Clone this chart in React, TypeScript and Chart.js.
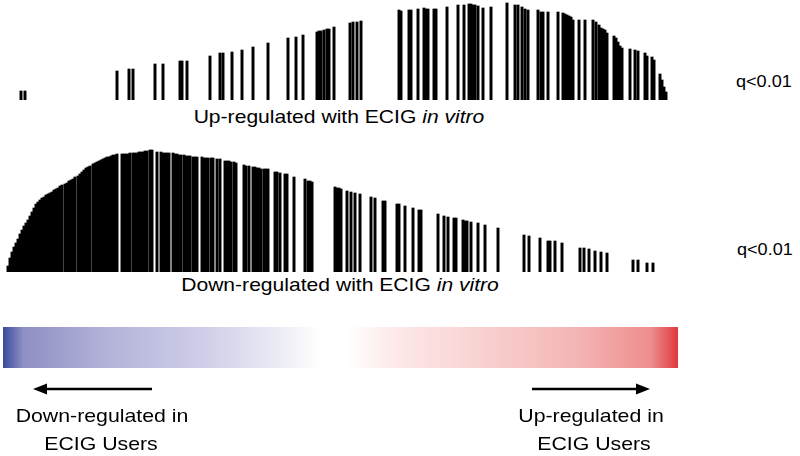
import React, { useEffect, useRef } from "react";
import { Chart, registerables } from "chart.js";

Chart.register(...registerables);

// Gene rank positions (x) and running-score bar heights for the up-regulated set
const upRank = [21, 25, 117, 129, 133, 155, 163, 180, 182, 187, 210, 220, 223, 232, 242, 253, 268, 288, 296, 303, 317, 319, 321, 324, 327, 329, 334, 350, 353, 357, 361, 399, 401, 409, 411, 418, 424, 426, 428, 434, 436, 447, 458, 464, 469, 471, 473, 475, 478, 483, 491, 507, 515, 518, 522, 525, 528, 538, 541, 543, 548, 558, 563, 565, 567, 569, 571, 573, 579, 585, 593, 596, 599, 601, 603, 605, 607, 614, 616, 618, 620, 622, 630, 635, 638, 645, 647, 652, 654, 660, 662, 664, 666];
const upScore = [9, 9, 29, 31, 31, 36, 36, 39, 39, 39, 44, 47, 47, 48, 50, 53, 57, 62, 63, 65, 68, 69, 69, 70, 71, 71, 73, 77, 78, 78, 79, 90, 89, 90, 90, 91, 92, 91, 91, 91, 91, 93, 95, 95, 96, 96, 95, 95, 94, 92, 93, 97, 95, 95, 93, 91, 90, 90, 88, 88, 88, 88, 87, 86, 85, 84, 83, 80, 80, 80, 80, 78, 75, 72, 71, 70, 67, 64, 62, 58, 54, 52, 51, 50, 49, 47, 44, 43, 40, 26, 20, 13, 8];

// Gene rank positions and bar heights for the down-regulated set
const downRank = [8, 10, 12, 14, 16, 18, 20, 22, 24, 26, 28, 30, 32, 34, 36, 38, 40, 42, 44, 46, 48, 50, 52, 54, 56, 58, 60, 62, 65, 67, 69, 71, 73, 75, 78, 80, 82, 84, 86, 88, 90, 93, 95, 97, 99, 101, 103, 105, 107, 109, 111, 113, 115, 117, 122, 124, 126, 128, 130, 133, 135, 137, 139, 141, 143, 145, 147, 150, 152, 157, 161, 163, 165, 167, 169, 173, 175, 177, 179, 181, 184, 186, 188, 190, 193, 195, 197, 202, 204, 206, 208, 211, 213, 217, 220, 225, 227, 229, 231, 234, 236, 244, 246, 249, 253, 255, 257, 259, 261, 264, 266, 268, 275, 277, 280, 285, 287, 294, 305, 308, 310, 312, 335, 337, 339, 341, 347, 351, 355, 360, 371, 375, 383, 385, 397, 399, 405, 413, 419, 421, 438, 444, 448, 454, 456, 463, 465, 467, 471, 478, 485, 498, 524, 529, 540, 548, 550, 555, 562, 580, 584, 589, 595, 601, 607, 633, 638, 647, 653];
const downScore = [6, 14, 20, 25, 29, 33, 38, 42, 46, 49, 52, 56, 60, 64, 68, 70, 72, 74, 75, 77, 78, 79, 80, 82, 83, 84, 86, 87, 88, 89, 91, 92, 93, 95, 96, 98, 100, 102, 104, 105, 106, 108, 109, 110, 111, 112, 113, 114, 115, 115, 116, 117, 117, 118, 118, 118, 118, 118, 119, 119, 119, 119, 120, 120, 120, 121, 121, 122, 122, 120, 120, 119, 119, 119, 119, 119, 118, 118, 117, 117, 117, 116, 116, 116, 115, 115, 115, 115, 114, 114, 114, 114, 114, 113, 113, 111, 111, 111, 110, 110, 109, 107, 106, 106, 105, 105, 104, 104, 103, 103, 103, 103, 100, 100, 99, 98, 98, 95, 93, 91, 91, 90, 85, 84, 84, 83, 81, 80, 79, 78, 75, 74, 71, 71, 68, 68, 66, 64, 62, 62, 58, 56, 55, 54, 54, 52, 51, 51, 50, 49, 47, 44, 37, 36, 34, 31, 31, 31, 29, 24, 24, 23, 21, 20, 19, 12, 12, 9, 9];

const RANK_MAX = 680;
const UP_MAX = 100;
const DOWN_MAX = 127;

const qLabel = "q<0.01";
const upTitle = "Up-regulated with ECIG ";
const downTitle = "Down-regulated with ECIG ";
const italicPart = "in vitro";
const leftLabel = ["Down-regulated in", "ECIG Users"];
const rightLabel = ["Up-regulated in", "ECIG Users"];

const FONT = "'Liberation Sans', Arial, Helvetica, sans-serif";

type BarcodeProps = {
  rank: number[];
  score: number[];
  yMax: number;
  top: number;
  height: number;
};

function Barcode({ rank, score, yMax, top, height }: BarcodeProps) {
  const ref = useRef<HTMLCanvasElement>(null);
  useEffect(() => {
    const chart = new Chart(ref.current!, {
      type: "bar",
      data: {
        datasets: [
          {
            data: rank.map((x, i) => ({ x, y: score[i] })),
            backgroundColor: "#000000",
            borderWidth: 0,
            barThickness: 2.3,
          } as any,
        ],
      },
      options: {
        responsive: false,
        maintainAspectRatio: false,
        animation: false,
        layout: { padding: 0 },
        plugins: { legend: { display: false }, tooltip: { enabled: false } },
        scales: {
          x: { type: "linear", min: 0, max: RANK_MAX, display: false, offset: false },
          y: { min: 0, max: yMax, display: false },
        },
      },
    });
    return () => chart.destroy();
  }, []);
  return (
    <canvas
      ref={ref}
      width={RANK_MAX}
      height={height}
      style={{ position: "absolute", left: 0, top, width: RANK_MAX, height }}
    />
  );
}

function Label({
  children,
  center,
  left,
  top,
  size,
  scale,
}: {
  children: React.ReactNode;
  center?: number;
  left?: number;
  top: number;
  size: number;
  scale: number;
}) {
  const centered = center !== undefined;
  return (
    <div
      style={{
        position: "absolute",
        left: centered ? center : left,
        top,
        fontFamily: FONT,
        fontSize: size,
        lineHeight: 1,
        whiteSpace: "nowrap",
        color: "#000",
        transformOrigin: centered ? "50% 50%" : "0 50%",
        transform: centered ? `translateX(-50%) scaleX(${scale})` : `scaleX(${scale})`,
      }}
    >
      {children}
    </div>
  );
}

export default function App() {
  return (
    <div
      style={{
        position: "absolute",
        left: 0,
        top: 0,
        width: 800,
        height: 456,
        background: "#ffffff",
        overflow: "hidden",
      }}
    >
      <Barcode rank={upRank} score={upScore} yMax={UP_MAX} top={0} height={100} />
      <Barcode rank={downRank} score={downScore} yMax={DOWN_MAX} top={145} height={127} />

      <Label center={339} top={107.8} size={18.5} scale={1.14}>
        {upTitle}
        <i>{italicPart}</i>
      </Label>
      <Label center={340} top={275.8} size={18.5} scale={1.14}>
        {downTitle}
        <i>{italicPart}</i>
      </Label>
      <Label left={736} top={73.5} size={16} scale={1.13}>
        {qLabel}
      </Label>
      <Label left={737} top={241.5} size={16} scale={1.13}>
        {qLabel}
      </Label>

      <div
        style={{
          position: "absolute",
          left: 3,
          top: 327,
          width: 675,
          height: 41,
          background:
            "linear-gradient(to right, #3b4a9c 0%, #8e8fc4 3%, #b2b2d9 15%, #cfcfe9 30%, #e9e9f4 40%, #ffffff 47%, #ffffff 51%, #fde9e9 58%, #f9d3d3 70%, #f4b5b5 85%, #ee8d8d 96%, #e0383d 100%)",
        }}
      />

      <svg
        width={800}
        height={456}
        style={{ position: "absolute", left: 0, top: 0 }}
      >
        <line x1={45} y1={389} x2={152} y2={389} stroke="#000" strokeWidth={2.5} />
        <polygon points="33,389 47,383.5 47,394.5" fill="#000" />
        <line x1={532} y1={389} x2={638} y2={389} stroke="#000" strokeWidth={2.5} />
        <polygon points="650,389 636,383.5 636,394.5" fill="#000" />
      </svg>

      <Label center={102} top={406.5} size={18.5} scale={1.15}>
        {leftLabel[0]}
      </Label>
      <Label center={101} top={434.5} size={18.5} scale={1.15}>
        {leftLabel[1]}
      </Label>
      <Label center={591} top={406.5} size={18.5} scale={1.15}>
        {rightLabel[0]}
      </Label>
      <Label center={594} top={434.5} size={18.5} scale={1.15}>
        {rightLabel[1]}
      </Label>
    </div>
  );
}
